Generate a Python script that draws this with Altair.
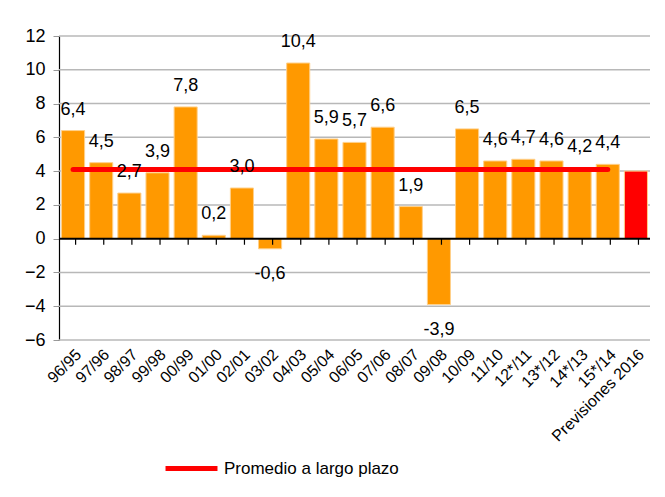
import altair as alt
import pandas as pd

categories = ["96/95", "97/96", "98/97", "99/98", "00/99", "01/00", "02/01", "03/02",
              "04/03", "05/04", "06/05", "07/06", "08/07", "09/08", "10/09", "11/10",
              "12*/11", "13*/12", "14*/13", "15*/14", "Previsiones 2016"]
values = [6.4, 4.5, 2.7, 3.9, 7.8, 0.2, 3.0, -0.6, 10.4, 5.9, 5.7, 6.6, 1.9, -3.9,
          6.5, 4.6, 4.7, 4.6, 4.2, 4.4, 4.0]
labels = ["6,4", "4,5", "2,7", "3,9", "7,8", "0,2", "3,0", "-0,6", "10,4", "5,9", "5,7",
          "6,6", "1,9", "-3,9", "6,5", "4,6", "4,7", "4,6", "4,2", "4,4", ""]
kinds = ["hist"] * 20 + ["prev"]
y_ticks = [-6, -4, -2, 0, 2, 4, 6, 8, 10, 12]
average_value = 4.1
average_name = "Promedio a largo plazo"

font = "Liberation Sans"

df = pd.DataFrame({"cat": categories, "val": values, "lab": labels, "kind": kinds})
df["pos"] = df["val"] >= 0
avg_df = pd.DataFrame({"cat": categories[:-1], "val": [average_value] * 20,
                       "serie": [average_name] * 20})
grid_df = pd.DataFrame({"val": [float(t) for t in y_ticks if t != 0]})
zero_df = pd.DataFrame({"val": [0.0]})
bound_df = pd.DataFrame({"cat": categories, "val": [0.0] * len(categories),
                         "low": [-0.36] * len(categories)})

W, H = 591, 304
step = W / len(categories)
xscale = alt.Scale(domain=categories, paddingInner=0.18, paddingOuter=0.09)
yscale = alt.Scale(domain=[-6, 12], nice=False)

x_axis = alt.Axis(orient="bottom", labelAngle=-45, labelFontSize=16,
                  labelFont=font, labelColor="#000000", labelPadding=6,
                  labelLimit=300, ticks=False, domain=False, grid=False)
y_axis = alt.Axis(values=y_ticks, labelFontSize=18, labelFont=font,
                  labelColor="#000000", tickColor="#999999", tickSize=6,
                  domainColor="#000000", domainWidth=1.2,
                  labelPadding=8, labelOverlap=False, grid=False)

X = alt.X("cat:N", sort=categories, scale=xscale, title=None, axis=x_axis)
Y = alt.Y("val:Q", scale=yscale, title=None, axis=y_axis)

grid = alt.Chart(grid_df).mark_rule(stroke="#b8b8b8", strokeWidth=1.5).encode(
    y=Y, x=alt.value(0), x2=alt.value(W))

bars = alt.Chart(df).mark_bar(strokeWidth=1, stroke="#ffd08a").encode(
    x=X, y=Y,
    color=alt.Color("kind:N", scale=alt.Scale(domain=["hist", "prev"],
                                              range=["#ff9900", "#ff0000"]), legend=None),
)

zero = alt.Chart(zero_df).mark_rule(stroke="#000000", strokeWidth=2).encode(
    y=Y, x=alt.value(0), x2=alt.value(W))

bounds = alt.Chart(bound_df).mark_rule(stroke="#000000", strokeWidth=1.2).encode(
    x=X, xOffset=alt.value(step / 2), y=Y, y2="low:Q")

txt_pos = alt.Chart(df[df["pos"]]).mark_text(
    baseline="bottom", dy=-12, fontSize=18, font=font, color="#000000"
).encode(x=X, y=Y, text="lab:N")

txt_neg = alt.Chart(df[~df["pos"]]).mark_text(
    baseline="top", dy=16, fontSize=18, font=font, color="#000000"
).encode(x=X, y=Y, text="lab:N")

line = alt.Chart(avg_df).mark_line(strokeWidth=5, strokeCap="round").encode(
    x=X, y=Y,
    color=alt.Color("serie:N", scale=alt.Scale(range=["#ff0000"]),
                    legend=alt.Legend(title=None, orient="none", legendX=104, legendY=404,
                                      symbolType="stroke", symbolSize=2700,
                                      symbolStrokeWidth=5, labelFontSize=17,
                                      labelFont=font, labelColor="#000000",
                                      labelOffset=4, labelLimit=400)),
)

border = "#808080"
f_top = alt.Chart(zero_df).mark_rule(stroke=border, strokeWidth=2).encode(
    x=alt.value(-56), x2=alt.value(603), y=alt.value(-34))
f_bot = alt.Chart(zero_df).mark_rule(stroke=border, strokeWidth=2).encode(
    x=alt.value(-56), x2=alt.value(603), y=alt.value(458))
f_left = alt.Chart(zero_df).mark_rule(stroke=border, strokeWidth=2).encode(
    x=alt.value(-56), y=alt.value(-34), y2=alt.value(458))
f_right = alt.Chart(zero_df).mark_rule(stroke=border, strokeWidth=2).encode(
    x=alt.value(603), y=alt.value(-34), y2=alt.value(458))

chart = alt.layer(grid, bars, zero, bounds, line, txt_pos, txt_neg,
                  f_top, f_bot, f_left, f_right).resolve_scale(
    color="independent"
).properties(
    width=W, height=H,
    autosize=alt.AutoSizeParams(type="none"),
    padding={"left": 51, "top": 28, "right": 7, "bottom": 149},
).configure_view(stroke=None)

chart.save("out.html", embed_options={"renderer": "svg", "actions": False})
